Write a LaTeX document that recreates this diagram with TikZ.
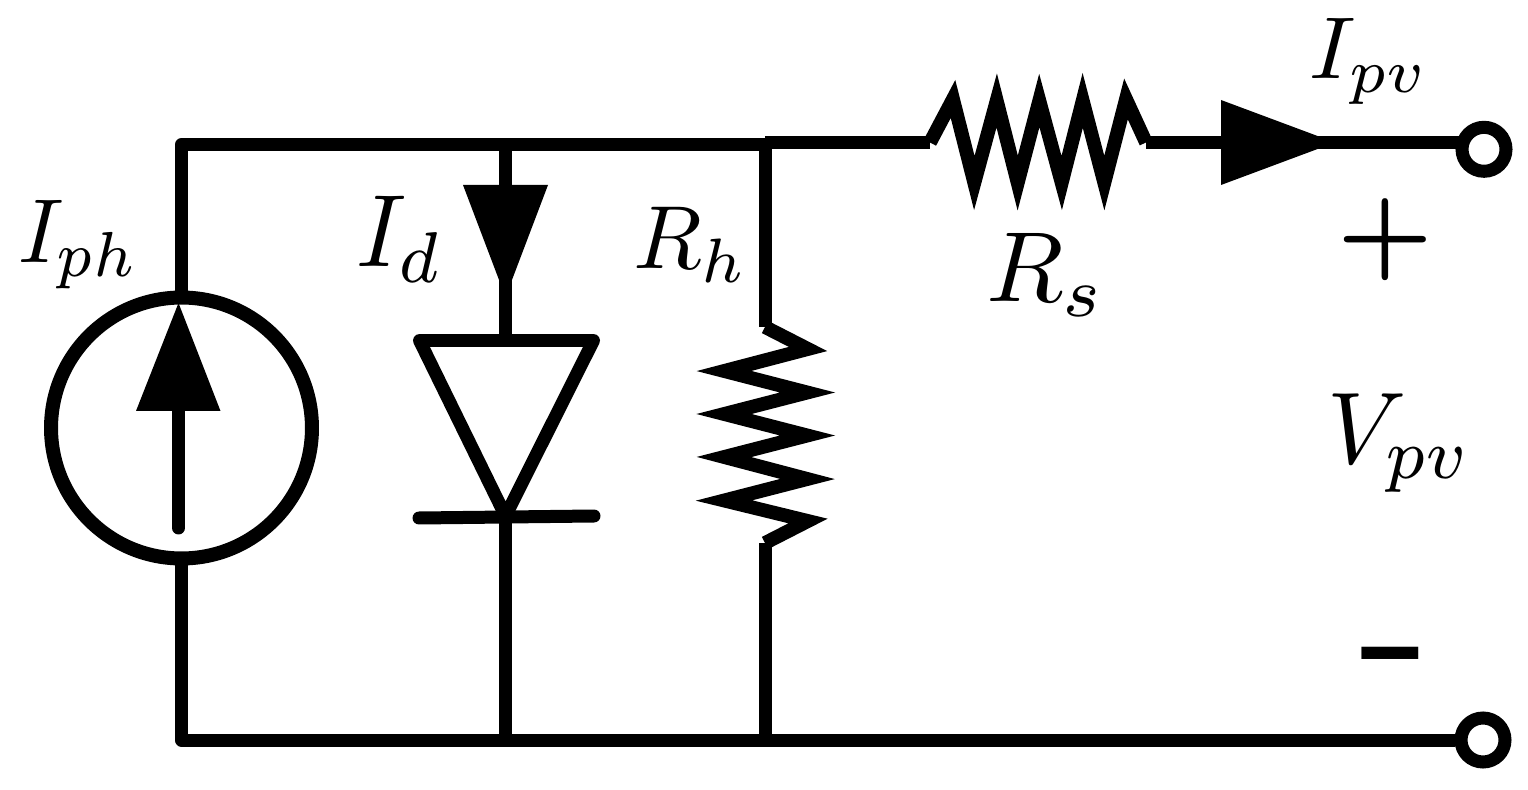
\documentclass[tikz,border=0pt]{standalone}
\usepackage{amsmath}
\usepackage{amssymb}
\usetikzlibrary{positioning}

\tikzset{
  wire/.style={line width=0.26cm,line join=round},
  zigzag/.style={line width=0.275cm,line join=miter,miter limit=10},
  lbl/.style={inner sep=0pt,anchor=base west},
  port/.style={circle,draw,fill=white,line width=0.26cm,minimum size=0.88cm,inner sep=0pt},
  source/.style={circle,draw,line width=0.28cm,minimum size=5.22cm,inner sep=0pt}
}

\begin{document}
\begin{tikzpicture}[x=0.02cm,y=-0.02cm]
   \useasboundingbox (0,0) rectangle (1528,790);

   \coordinate (TL) at (181.5,144.5);
   \coordinate (TD) at (505.5,144.5);
   \coordinate (TR) at (765,144.5);
   \coordinate (BL) at (181.5,740);
   \coordinate (BD) at (505.5,740);
   \coordinate (BR) at (765,740);
   \coordinate (RS0) at (765,142.5);
   \coordinate (RS1) at (930,142.5);
   \coordinate (RS2) at (1146,142.5);
   \coordinate (PW) at (1462,142.5);
   \coordinate (RH1) at (765,327);
   \coordinate (RH2) at (765,543);
   \coordinate (DT) at (505.5,340.5);
   \coordinate (DK) at (505.5,516);

   \node[source] (Src) at (181.5,428) {};
   \node[port] (P1) at (1484,149.3) {};
   \node[port] (P2) at (1483,740) {};

   % wires
   \draw[wire] (Src.north) -- (TL) -- (TR);
   \draw[wire] (Src.south) -- (BL) -- (BR) -- (P2);
   \draw[wire] (TD) -- (DT);
   \draw[wire] (DK) -- (BD);
   \draw[wire] (TR) -- (RH1);
   \draw[wire] (RH2) -- (BR);
   \draw[wire] (RS0) -- (RS1);
   \draw[wire] (RS2) -- (PW);

   % resistors
   \draw[zigzag] (RS1) -- (953,99) -- (974.3,183) -- (996.7,100.5) -- (1017.7,183)
      -- (1039.3,100.5) -- (1061.7,183) -- (1082.7,100.5) -- (1104.3,183) -- (1126,99) -- (RS2);
   \draw[zigzag] (RH1) -- (808,349) -- (724,371) -- (807.5,392.5) -- (724,414)
      -- (807.5,435.5) -- (724,457) -- (807.5,479) -- (724,500.5) -- (808,521) -- (RH2);

   % diode
   \draw[wire] (419.5,340.5) -- (593.5,340.5) -- (DK) -- cycle;
   \draw[wire,line cap=round] (419,518) -- (594,516);

   % arrows
   \fill (505.5,297) -- (463,185) -- (548,185) -- cycle;
   \fill (1335,142.5) -- (1221,100) -- (1221,185) -- cycle;
   \fill (178.5,303) -- (136,411) -- (220.5,411) -- cycle;
   \draw[wire,line cap=round] (178.5,400) -- (178.5,528);

   % labels
   \node[lbl,xscale=5,yscale=5.17] (Iph) at (16.5,263) {$I_{ph}$};
   \node[lbl,xscale=5.5,yscale=5.85] (Id) at (354.5,266.7) {$I_d$};
   \node[lbl,xscale=5.1,yscale=5.1] (Rh) at (632,269) {$R_h$};
   \node[lbl,xscale=5.75,yscale=5.67] (Rs) at (984,301.7) {$R_s$};
   \node[lbl,xscale=5.1,yscale=5] (Ipv) at (1308,79) {$I_{pv}$};
   \node[lbl,xscale=5.6,yscale=5.8] (Vpv) at (1326,463) {$V_{pv}$};
   \node[inner sep=0pt,scale=6.1] (Plus) at (1385.5,240) {{\boldmath$+$}};
   \node[inner sep=0pt,xscale=10.6,yscale=7.2] (Minus) at (1395,664.5) {\textbf{-}};
\end{tikzpicture}
\end{document}
